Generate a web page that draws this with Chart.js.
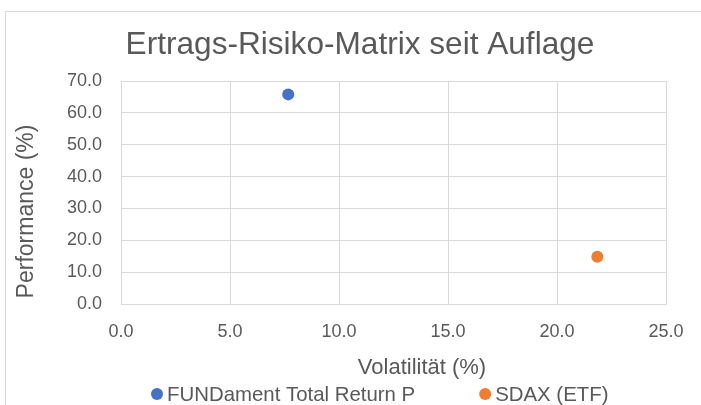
<!DOCTYPE html>
<html>
<head>
<meta charset="utf-8">
<script src="https://cdn.jsdelivr.net/npm/chart.js@4"></script>
<style>
  html, body { margin: 0; padding: 0; background: #ffffff; }
  #wrap { position: relative; width: 701px; height: 405px; overflow: hidden; }
  #frame { position: absolute; left: 5px; top: 11px; width: 800px; height: 500px; border: 1px solid #d9d9d9; box-sizing: border-box; }
  #c { position: absolute; left: 0; top: 0; }
</style>
</head>
<body>
<div id="wrap">
  <div id="frame"></div>
  <canvas id="c" width="701" height="405"></canvas>
</div>
<script>
// ---- data ----
const chartTitle = "Ertrags-Risiko-Matrix seit Auflage";
const xAxisTitle = "Volatilität (%)";
const yAxisTitle = "Performance (%)";
const seriesNames = ["FUNDament Total Return P", "SDAX (ETF)"];
const volatility = [7.67, 21.85];
const performance = [65.8, 14.8];
const seriesColors = ["#4472C4", "#ED7D31"];
const xTicks = [0, 5, 10, 15, 20, 25];
const yTicks = [0, 10, 20, 30, 40, 50, 60, 70];

const textColor = "#595959";
const gridColor = "#d9d9d9";
const fontFamily = "'Liberation Sans', Arial, sans-serif";

const datasets = seriesNames.map((name, i) => ({
  label: name,
  data: [{ x: volatility[i], y: performance[i] }],
  backgroundColor: seriesColors[i],
  borderColor: seriesColors[i],
  pointRadius: 6,
  pointHoverRadius: 6,
  borderWidth: 0
}));

// chart title and axis titles (Excel places these independently of the plot centre)
const titlesPlugin = {
  id: 'customTitles',
  afterDraw(chart) {
    const ctx = chart.ctx;
    ctx.save();
    ctx.fillStyle = textColor;
    ctx.textAlign = "center";
    ctx.textBaseline = "alphabetic";
    ctx.font = "31.6px " + fontFamily;
    ctx.fillText(chartTitle, 360, 54);

    ctx.textBaseline = "middle";
    ctx.font = "22px " + fontFamily;
    ctx.fillText(xAxisTitle, 422, 368);

    ctx.font = "23px " + fontFamily;
    ctx.translate(27, 211.5);
    ctx.rotate(-Math.PI / 2);
    ctx.fillText(yAxisTitle, 0, 0);
    ctx.restore();
  }
};

const legendPlugin = {
  id: 'customLegend',
  afterDraw(chart) {
    const ctx = chart.ctx;
    ctx.save();
    ctx.font = "20.4px " + fontFamily;
    ctx.textBaseline = "middle";
    ctx.textAlign = "left";
    let x = 151;
    const y = 395;
    chart.data.datasets.forEach((ds) => {
      ctx.fillStyle = ds.backgroundColor;
      ctx.beginPath();
      ctx.arc(x + 6, y - 1, 6, 0, Math.PI * 2);
      ctx.fill();
      ctx.fillStyle = textColor;
      ctx.fillText(ds.label, x + 16, y);
      x += 16 + ctx.measureText(ds.label).width + 64;
    });
    ctx.restore();
  }
};

new Chart(document.getElementById('c'), {
  type: 'scatter',
  data: { datasets },
  plugins: [titlesPlugin, legendPlugin],
  options: {
    responsive: false,
    animation: false,
    events: [],
    layout: { padding: { top: 81, right: 35, bottom: 20, left: 0 } },
    plugins: {
      legend: { display: false },
      title: { display: false },
      tooltip: { enabled: false }
    },
    scales: {
      x: {
        type: 'linear',
        min: xTicks[0],
        max: xTicks[xTicks.length - 1],
        afterBuildTicks: (s) => { s.ticks = xTicks.map(v => ({ value: v })); },
        afterFit: (s) => { s.height = 81; },
        ticks: {
          color: textColor,
          font: { family: fontFamily, size: 18 },
          padding: 17,
          callback: (v) => Number(v).toFixed(1)
        },
        grid: { color: gridColor, lineWidth: 1, drawTicks: false },
        border: { color: gridColor, width: 1 },
        title: { display: false }
      },
      y: {
        type: 'linear',
        min: yTicks[0],
        max: yTicks[yTicks.length - 1],
        afterBuildTicks: (s) => { s.ticks = yTicks.map(v => ({ value: v })); },
        afterFit: (s) => { s.width = 121; },
        ticks: {
          color: textColor,
          font: { family: fontFamily, size: 18 },
          padding: 19,
          callback: (v) => Number(v).toFixed(1)
        },
        grid: { color: gridColor, lineWidth: 1, drawTicks: false },
        border: { color: gridColor, width: 1 },
        title: { display: false }
      }
    }
  }
});
</script>
</body>
</html>
